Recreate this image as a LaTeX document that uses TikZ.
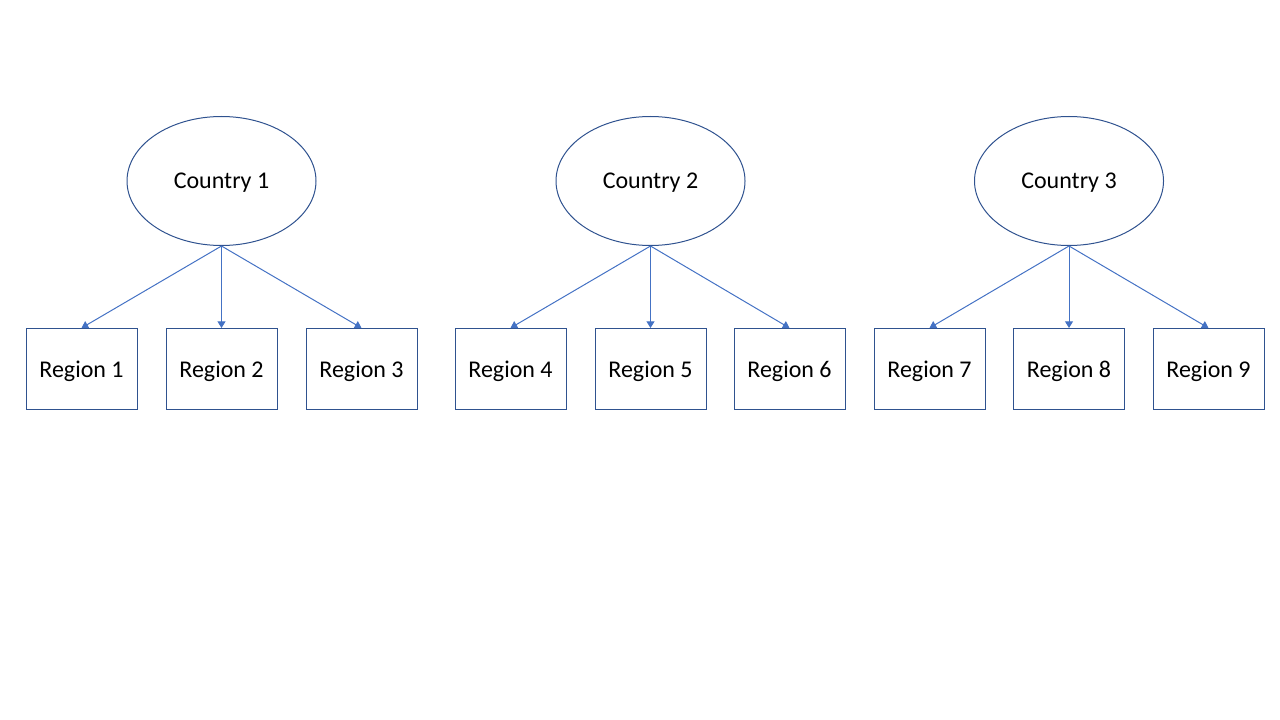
\documentclass[tikz,border=0pt]{standalone}
\usepackage{fontspec}
\setmainfont{Carlito}
\usetikzlibrary{shapes.geometric,arrows.meta}
\definecolor{edgeblue}{HTML}{2F528F}
\definecolor{arrowblue}{HTML}{4472C4}
\begin{document}
\begin{tikzpicture}[x=0.75pt,y=-0.75pt,
  country/.style={draw=edgeblue,line width=0.75pt,ellipse,minimum width=189*0.75pt,minimum height=129*0.75pt,inner sep=0pt,text depth=0pt,font=\fontsize{18}{21}\selectfont},
  region/.style={draw=edgeblue,line width=0.75pt,rectangle,minimum width=111*0.75pt,minimum height=81*0.75pt,inner sep=0pt,text depth=0pt,font=\fontsize{18}{21}\selectfont},
  link/.style={draw=arrowblue,line width=0.75pt,-{Triangle[width=6pt,length=5pt]}}]
\useasboundingbox (0,0) rectangle (1280,720);
\node[country] (c1) at (221.5,181) {Country 1};
\node[country] (c2) at (650.5,181) {Country 2};
\node[country] (c3) at (1069,181) {Country 3};
\node[region] (r1) at (81.5,369) {Region 1};
\node[region] (r2) at (221.5,369) {Region 2};
\node[region] (r3) at (361.5,369) {Region 3};
\node[region] (r4) at (510.5,369) {Region 4};
\node[region] (r5) at (650.5,369) {Region 5};
\node[region] (r6) at (789.5,369) {Region 6};
\node[region] (r7) at (929.5,369) {Region 7};
\node[region] (r8) at (1069,369) {Region 8};
\node[region] (r9) at (1208.5,369) {Region 9};
\foreach \c/\a/\b/\d in {c1/r1/r2/r3,c2/r4/r5/r6,c3/r7/r8/r9}{
  \draw[link] (\c.south) -- (\a.north);
  \draw[link] (\c.south) -- (\b.north);
  \draw[link] (\c.south) -- (\d.north);
}
\end{tikzpicture}
\end{document}
